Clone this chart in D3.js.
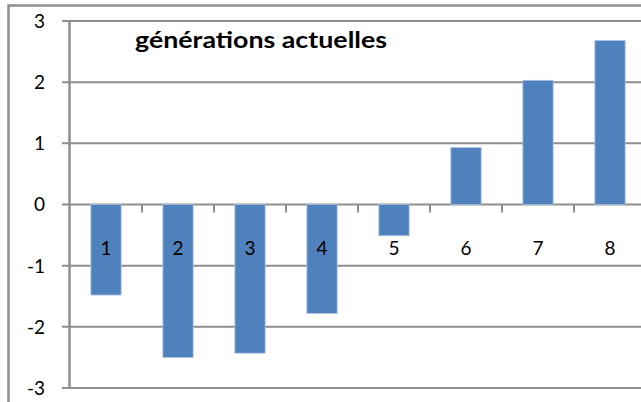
<!DOCTYPE html>
<html>
<head>
<meta charset="utf-8">
<script src="https://cdn.jsdelivr.net/npm/d3@7"></script>
<style>
  body { margin: 0; background: #fff; }
  svg { display: block; font-family: Lato, "Open Sans", sans-serif; }
</style>
</head>
<body>
<svg width="641" height="402"></svg>
<script>
// data
const categories = ["1", "2", "3", "4", "5", "6", "7", "8"];
const values = [-1.48, -2.50, -2.43, -1.78, -0.51, 0.93, 2.03, 2.68];
const yTicks = [-3, -2, -1, 0, 1, 2, 3];
const title = "générations actuelles";

const svg = d3.select("svg"),
    width = +svg.attr("width"),
    height = +svg.attr("height");

const gridColor = "#8e8e8e";

// outer frame (only left/top visible in the crop)
svg.append("rect")
    .attr("x", 8.5)
    .attr("y", 5.5)
    .attr("width", width + 20)
    .attr("height", height + 20)
    .attr("fill", "none")
    .attr("stroke", gridColor)
    .attr("stroke-width", 2.5);

const x = d3.scaleBand()
    .domain(categories)
    .range([70, 646])
    .paddingInner(0.58)
    .paddingOuter(0.29);

const y = d3.scaleLinear()
    .domain([-3, 3])
    .range([388, 21]);

// gridlines + y ticks
svg.append("g")
    .selectAll("line")
    .data(yTicks)
    .join("line")
      .attr("x1", 62)
      .attr("x2", width)
      .attr("y1", d => y(d))
      .attr("y2", d => y(d))
      .attr("stroke", gridColor)
      .attr("stroke-width", 2);

// y axis line
svg.append("line")
    .attr("x1", 69.5).attr("x2", 69.5)
    .attr("y1", y(3)).attr("y2", y(-3) + 1)
    .attr("stroke", gridColor)
    .attr("stroke-width", 2.5);

// y tick labels
svg.append("g")
    .selectAll("text")
    .data(yTicks)
    .join("text")
      .attr("x", 45)
      .attr("y", d => y(d))
      .attr("dy", "0.36em")
      .attr("text-anchor", "end")
      .style("font-size", "19px")
      .attr("fill", "#000")
      .text(d => d);

// x axis ticks between categories (on the zero line)
const step = x.step();
svg.append("g")
    .selectAll("line")
    .data(categories)
    .join("line")
      .attr("x1", d => x(d) - x.paddingOuter() * step + step)
      .attr("x2", d => x(d) - x.paddingOuter() * step + step)
      .attr("y1", y(0))
      .attr("y2", y(0) + 8)
      .attr("stroke", gridColor)
      .attr("stroke-width", 2);

// bars
svg.append("g")
    .selectAll("rect")
    .data(values)
    .join("rect")
      .attr("x", (d, i) => x(categories[i]))
      .attr("y", d => y(Math.max(0, d)))
      .attr("width", x.bandwidth())
      .attr("height", d => Math.abs(y(d) - y(0)))
      .attr("fill", "#4f81bd")
      .attr("stroke", "#a9c0e0")
      .attr("stroke-width", 0.8);

// category labels
svg.append("g")
    .selectAll("text")
    .data(categories)
    .join("text")
      .attr("x", d => x(d) + x.bandwidth() / 2)
      .attr("y", 248)
      .attr("dy", "0.36em")
      .attr("text-anchor", "middle")
      .style("font-size", "19px")
      .attr("fill", "#000")
      .text(d => d);

// title
svg.append("text")
    .attr("x", 135)
    .attr("y", 48)
    .attr("textLength", 252)
    .attr("lengthAdjust", "spacingAndGlyphs")
    .style("font-size", "22px")
    .style("font-weight", "bold")
    .attr("fill", "#000")
    .text(title);
</script>
</body>
</html>
